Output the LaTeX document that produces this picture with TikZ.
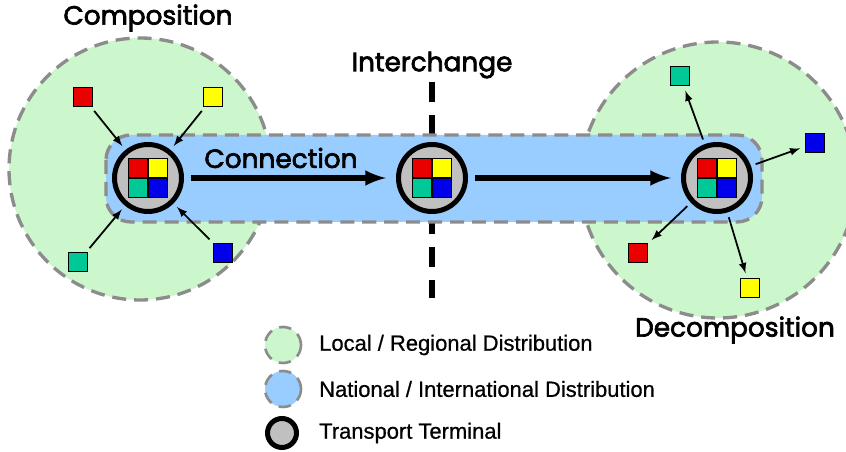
\documentclass[tikz,border=0pt]{standalone}
\usepackage{fontspec}
\setmainfont{Liberation Sans}
\newfontfamily\headfont[FakeBold=2.6]{Poppins}
\newfontfamily\keyfont[FakeBold=0.7]{Liberation Sans}

\definecolor{localgreen}{RGB}{204,246,204}
\definecolor{natblue}{RGB}{153,204,255}
\definecolor{edgegray}{RGB}{140,140,140}
\definecolor{termgray}{RGB}{192,192,192}
\definecolor{pred}{RGB}{235,0,0}
\definecolor{pyellow}{RGB}{255,255,0}
\definecolor{pteal}{RGB}{0,200,150}
\definecolor{pblue}{RGB}{0,0,235}

\begin{document}
\begin{tikzpicture}[x=0.02cm,y=-0.02cm,
  region/.style={draw=edgegray,line width=1.9pt,dash pattern=on 8pt off 4.5pt},
  terminal/.style={circle,draw=black,fill=termgray,line width=2.85pt,minimum size=1.34cm,inner sep=0pt},
  parcel/.style={draw=black,line width=0.6pt,minimum size=0.38cm,inner sep=0pt},
  tile/.style={draw=black,line width=0.5pt,minimum size=0.38cm,inner sep=0pt},
  feed/.style={-latex,line width=1pt,shorten <=0.1cm,shorten >=0.1cm},
  link/.style={-latex,line width=3pt,shorten <=0.14cm,shorten >=0.2cm},
  head/.style={font=\headfont\fontsize{15}{18}\selectfont},
  legend/.style={font=\keyfont\fontsize{12.5}{15}\selectfont,anchor=west}]
\clip (0,0) rectangle (846,452);

% regional areas
\filldraw[region,fill=localgreen] (140,169) circle (131) ; % composition area
\filldraw[region,fill=localgreen] (718,180) circle (138) ; % decomposition area

% interchange line
\coordinate (ictop) at (432,82);
\coordinate (icbot) at (432,298);
\draw[line width=3.9pt,dash pattern=on 11.4pt off 7.4pt] (ictop) -- (icbot) ;

% national band
\filldraw[region,fill=natblue,rounded corners=0.5cm] (106,135) rectangle (762,222) ;

% terminals
\node[terminal] (t1) at (148,178) {};
\node[terminal] (t2) at (432,178) {};
\node[terminal] (t3) at (717,178) {};
\foreach \t in {t1,t2,t3} {
  \node[tile,fill=pred,anchor=south east] at (\t.center) {};
  \node[tile,fill=pyellow,anchor=south west] at (\t.center) {};
  \node[tile,fill=pteal,anchor=north east] at (\t.center) {};
  \node[tile,fill=pblue,anchor=north west] at (\t.center) {};
}

% parcels in
\node[parcel,fill=pred] (inr) at (83,97) {};
\node[parcel,fill=pyellow] (iny) at (213,97) {};
\node[parcel,fill=pteal] (ing) at (78,262) {};
\node[parcel,fill=pblue] (inb) at (223,253) {};

% parcels out
\node[parcel,fill=pteal] (outg) at (680,76) {};
\node[parcel,fill=pblue] (outb) at (815,143) {};
\node[parcel,fill=pred] (outr) at (638,253) {};
\node[parcel,fill=pyellow] (outy) at (750,288) {};

\draw[feed] (inr) -- (t1) ;
\draw[feed] (iny) -- (t1) ;
\draw[feed] (ing) -- (t1) ;
\draw[feed] (inb) -- (t1) ;

\draw[feed] (t3) -- (outg) ;
\draw[feed] (t3) -- (outb) ;
\draw[feed] (t3) -- (outr) ;
\draw[feed] (t3) -- (outy) ;

\draw[link] (t1) -- (t2) ;
\draw[link] (t2) -- (t3) ;

% labels
\node[head] (comp) at (148,18) {Composition};
\node[head] (inter) at (432,65) {Interchange};
\node[head] (conn) at (281,158) {Connection};
\node[head] (decomp) at (735,330) {Decomposition};

% legend
\filldraw[region,line width=1.5pt,dash pattern=on 7pt off 4.5pt,fill=localgreen] (283,345) circle (18) ;
\filldraw[region,line width=1.5pt,dash pattern=on 7pt off 4.5pt,fill=natblue] (283,389) circle (18) ;
\node[terminal,minimum size=0.58cm] (keyterm) at (282,433) {};
\node[legend] (keylocal) at (313,345) {Local / Regional Distribution};
\node[legend] (keynat) at (313,389) {National / International Distribution};
\node[legend] (keytext) at (313,433) {Transport Terminal};
\end{tikzpicture}
\end{document}
